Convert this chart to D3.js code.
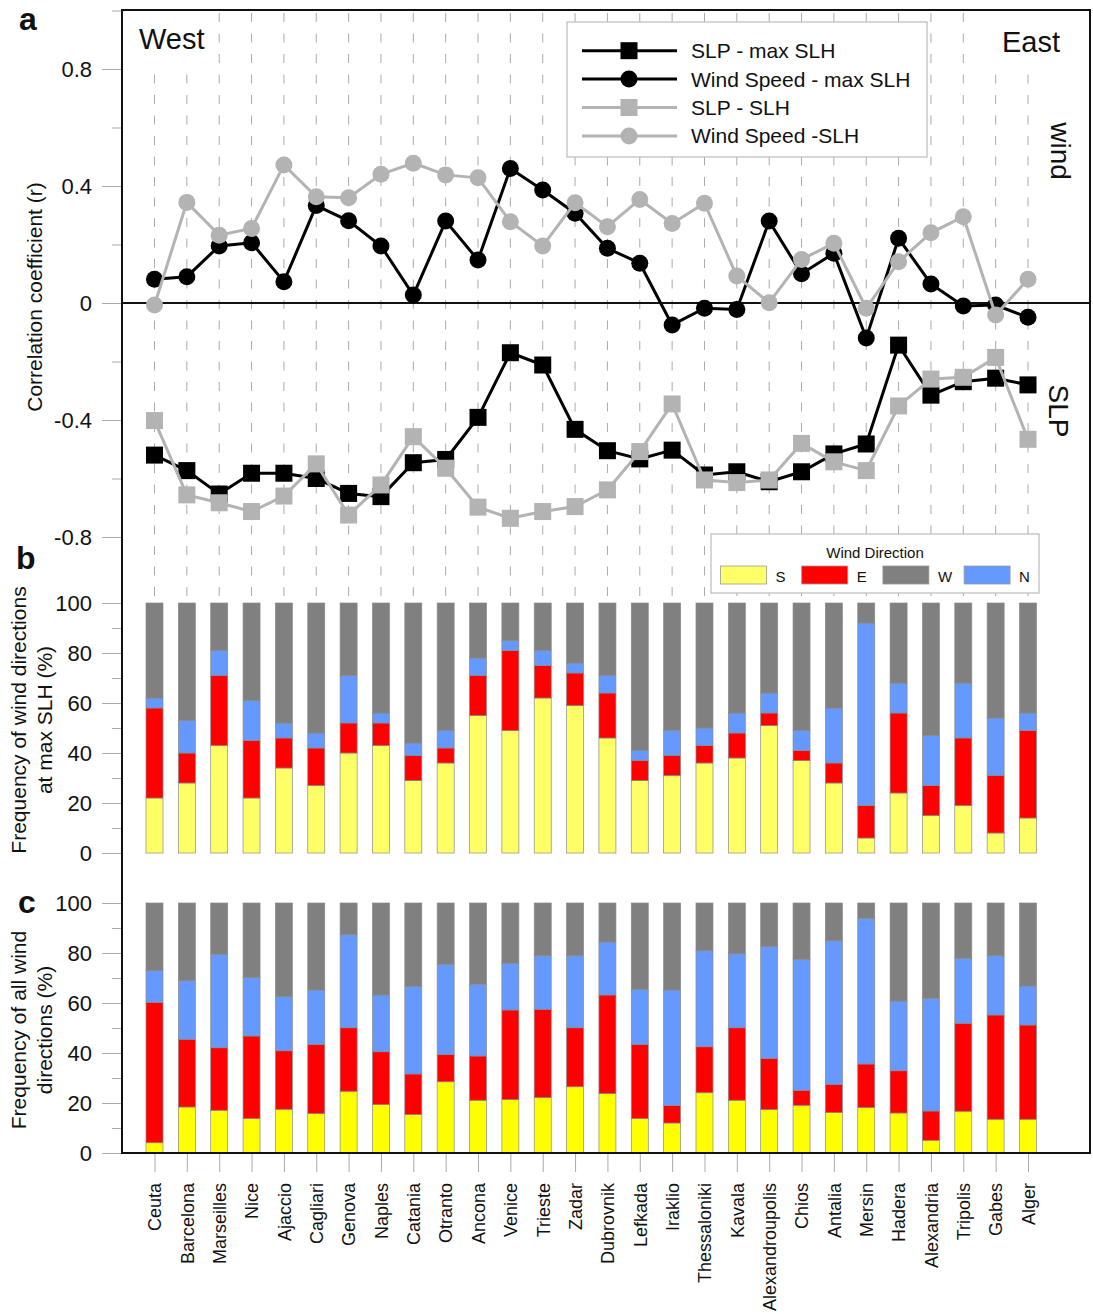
<!DOCTYPE html>
<html>
<head>
<meta charset="utf-8">
<script src="https://cdn.jsdelivr.net/npm/d3@7"></script>
<style>
  body { margin:0; background:#fff; }
  svg text { font-family:"Liberation Sans", Arial, sans-serif; fill:#111; }
  .tick line { stroke:#aaa; }
</style>
</head>
<body>
<div id="chart"></div>
<script>
// stations west -> east
const stations = ["Ceuta","Barcelona","Marseilles","Nice","Ajaccio","Cagliari","Genova","Naples","Catania","Otranto","Ancona","Venice","Trieste","Zadar","Dubrovnik","Lefkada","Iraklio","Thessaloniki","Kavala","Alexandroupolis","Chios","Antalia","Mersin","Hadera","Alexandria","Tripolis","Gabes","Alger"];

// panel a: correlation coefficients
const slpMax  = [-0.52,-0.573,-0.653,-0.582,-0.582,-0.60,-0.651,-0.662,-0.546,-0.535,-0.391,-0.17,-0.212,-0.432,-0.505,-0.533,-0.503,-0.588,-0.577,-0.611,-0.577,-0.516,-0.482,-0.144,-0.315,-0.269,-0.257,-0.28];
const windMax = [0.081,0.09,0.195,0.206,0.073,0.333,0.281,0.195,0.027,0.28,0.147,0.46,0.386,0.307,0.187,0.136,-0.075,-0.018,-0.022,0.28,0.10,0.17,-0.12,0.221,0.065,-0.01,-0.007,-0.049];
const slpAll  = [-0.402,-0.656,-0.683,-0.713,-0.66,-0.55,-0.725,-0.622,-0.457,-0.565,-0.698,-0.736,-0.713,-0.696,-0.639,-0.508,-0.345,-0.605,-0.614,-0.605,-0.48,-0.543,-0.573,-0.352,-0.26,-0.254,-0.186,-0.466];
const windAll = [-0.007,0.344,0.232,0.255,0.472,0.363,0.36,0.44,0.478,0.438,0.428,0.278,0.195,0.343,0.261,0.354,0.272,0.341,0.092,0.001,0.149,0.204,-0.018,0.141,0.24,0.295,-0.041,0.081];
const aTicks = [-0.8,-0.4,0,0.4,0.8], aTickLabels = ["-0.8","-0.4","0","0.4","0.8"], aMinor = [-0.6,-0.2,0.2,0.6,1.0];

// panel b: wind direction frequency at max SLH (%)
const bS = [22,28,43,22,34,27,40,43,29,36,55,49,62,59,46,29,31,36,38,51,37,28,6,24,15,19,8,14];
const bE = [36,12,28,23,12,15,12,9,10,6,16,32,13,13,18,8,8,7,10,5,4,8,13,32,12,27,23,35];
const bN = [4,13,10,16,6,6,19,4,5,7,7,4,6,4,7,4,10,7,8,8,8,22,73,12,20,22,23,7];
const bW = [38,47,19,39,48,52,29,44,56,51,22,15,19,24,29,59,51,50,44,36,51,42,8,32,53,32,46,44];

// panel c: frequency of all wind directions (%)
const cS = [4.1,18.4,17.1,13.8,17.5,15.8,24.7,19.4,15.4,28.5,21.1,21.4,22.2,26.5,23.8,13.8,12.0,24.1,21.1,17.4,19.1,16.2,18.2,16.0,5.1,16.7,13.5,13.5];
const cE = [56.2,27.1,25.0,33.0,23.4,27.6,25.4,21.1,16.2,10.9,17.7,35.8,35.3,23.6,39.4,29.6,7.0,18.4,29.0,20.4,6.0,11.3,17.4,16.9,11.7,35.2,41.7,37.7];
const cN = [12.6,23.4,37.4,23.4,21.7,21.8,37.2,22.7,35.0,36.1,28.7,18.7,21.4,28.8,21.2,22.1,46.2,38.4,29.6,44.8,52.4,57.4,58.3,27.9,45.1,26.0,23.7,15.6];
const cW = [27.1,31.1,20.5,29.8,37.4,34.8,12.7,36.8,33.4,24.5,32.5,24.1,21.1,21.1,15.6,34.5,34.8,19.1,20.3,17.4,22.5,15.1,6.1,39.2,38.1,22.1,21.1,33.2];
const fTicks = [0,20,40,60,80,100], fMinor = [10,30,50,70,90];

const dirs = ["S","E","N","W"];
const dirColor = { S:"#ffff66", E:"#ff0000", N:"#6699ff", W:"#808080" };
const legendDirs = ["S","E","W","N"];

const W = 1093, H = 1314;
const L = 122, R = 1090, T = 10, B = 1153;
const svg = d3.select("#chart").append("svg").attr("width",W).attr("height",H);

const x  = d3.scalePoint().domain(stations).range([154.5,1028]);
const yA = d3.scaleLinear().domain([-0.8,0.8]).range([537,69]);
const yB = d3.scaleLinear().domain([0,100]).range([853,603]);
const yC = d3.scaleLinear().domain([0,100]).range([1153,903]);

// dashed station guides (panels a and b)
svg.append("g").selectAll("line").data(stations).join("line")
    .attr("x1",d=>x(d)).attr("x2",d=>x(d)).attr("y1",T+3).attr("y2",598)
    .attr("stroke","#aaa").attr("stroke-width",1).attr("stroke-dasharray","9,11.5");

// West / East labels with white background
svg.append("rect").attr("x",132).attr("y",T+2).attr("width",80).attr("height",60).attr("fill","#fff");
svg.append("rect").attr("x",988).attr("y",T+2).attr("width",90).attr("height",60).attr("fill","#fff");
svg.append("text").attr("x",139).attr("y",49).style("font-size","29px").text("West");
svg.append("text").attr("x",1060).attr("y",52).attr("text-anchor","end").style("font-size","29px").text("East");
svg.append("text").attr("transform","translate(1051,151) rotate(90)").attr("text-anchor","middle").style("font-size","28px").text("wind");
svg.append("text").attr("transform","translate(1049,411) rotate(90)").attr("text-anchor","middle").style("font-size","28px").text("SLP");

// y axes with long major and short minor ticks
function yAxis(scale, major, labels, minor) {
    svg.append("g").attr("transform",`translate(${L},0)`)
        .call(d3.axisLeft(scale).tickValues(minor).tickSize(10).tickFormat(""))
        .call(g=>g.select(".domain").remove());
    svg.append("g").attr("transform",`translate(${L},0)`)
        .call(d3.axisLeft(scale).tickValues(major).tickSize(20).tickPadding(10)
            .tickFormat((d,i)=>labels ? labels[i] : d))
        .call(g=>g.select(".domain").remove())
        .call(g=>g.selectAll("text").style("font-size","22px").attr("fill","#111"));
}
yAxis(yA, aTicks, aTickLabels, aMinor);
yAxis(yB, fTicks, null, fMinor);
yAxis(yC, fTicks, null, fMinor);

// zero line
svg.append("line").attr("x1",L).attr("x2",R).attr("y1",yA(0)).attr("y2",yA(0)).attr("stroke","#111").attr("stroke-width",2);

// correlation series
const series = [
    { vals:slpMax,  color:"#000",    shape:"square", name:"SLP - max SLH" },
    { vals:windMax, color:"#000",    shape:"circle", name:"Wind Speed - max SLH" },
    { vals:slpAll,  color:"#b3b3b3", shape:"square", name:"SLP - SLH" },
    { vals:windAll, color:"#b3b3b3", shape:"circle", name:"Wind Speed -SLH" },
];
const line = d3.line().x((d,i)=>x(stations[i])).y(d=>yA(d));
function marker(g, shape, color, cx, cy) {
    if (shape==="square") g.append("rect").attr("x",cx-8.5).attr("y",cy-8.5).attr("width",17).attr("height",17).attr("fill",color);
    else g.append("circle").attr("cx",cx).attr("cy",cy).attr("r",8.5).attr("fill",color);
}
series.forEach(s => {
    const g = svg.append("g");
    g.append("path").datum(s.vals).attr("d",line).attr("fill","none").attr("stroke",s.color).attr("stroke-width",3);
    s.vals.forEach((v,i)=>marker(g, s.shape, s.color, x(stations[i]), yA(v)));
});

// line legend
svg.append("rect").attr("x",567).attr("y",22).attr("width",360).attr("height",135).attr("fill","#fff").attr("stroke","#bbb").attr("stroke-width",1.2);
series.forEach((s,i) => {
    const ly = 50.7 + i*28.4, g = svg.append("g");
    g.append("line").attr("x1",582).attr("x2",677).attr("y1",ly).attr("y2",ly).attr("stroke",s.color).attr("stroke-width",3);
    marker(g, s.shape, s.color, 629, ly);
    g.append("text").attr("x",691).attr("y",ly+7.5).style("font-size","21px").text(s.name);
});

// stacked bars
function bars(scale, cols, yellow) {
    const rows = stations.map((st,i)=>({ st, S:cols.S[i], E:cols.E[i], N:cols.N[i], W:cols.W[i] }));
    const stacked = d3.stack().keys(dirs)(rows);
    svg.append("g").selectAll("g").data(stacked).join("g")
        .attr("fill",d=>d.key==="S" ? yellow : dirColor[d.key])
        .selectAll("rect").data(d=>d).join("rect")
        .attr("x",d=>x(d.data.st)-8.5).attr("width",17)
        .attr("y",d=>scale(d[1])).attr("height",d=>scale(d[0])-scale(d[1]))
        .attr("stroke","#8a8a8a").attr("stroke-width",0.7);
}
bars(yB, {S:bS,E:bE,N:bN,W:bW}, "#ffff66");
bars(yC, {S:cS,E:cE,N:cN,W:cW}, "#ffff00");

// wind direction legend
svg.append("rect").attr("x",711).attr("y",534).attr("width",328).attr("height",59).attr("fill","#fff").attr("stroke","#bbb").attr("stroke-width",1.2);
svg.append("text").attr("x",875).attr("y",558).attr("text-anchor","middle").style("font-size","15px").text("Wind Direction");
legendDirs.forEach((k,i) => {
    const lx = 720.5 + i*81.2;
    svg.append("rect").attr("x",lx).attr("y",566).attr("width",46).attr("height",18)
        .attr("fill",dirColor[k]).attr("stroke","#999").attr("stroke-width",0.8);
    svg.append("text").attr("x",lx+55).attr("y",581.5).style("font-size","15px").text(k);
});

// bottom station axis
svg.append("g").attr("transform",`translate(0,${B})`)
    .call(d3.axisBottom(x).tickSize(19).tickPadding(0))
    .call(g=>g.select(".domain").remove())
    .call(g=>g.selectAll("text")
        .attr("transform","rotate(-90)").attr("text-anchor","end")
        .attr("x",-30).attr("y",0).attr("dy","0.35em")
        .style("font-size","18px").attr("fill","#111"));

// frame
svg.append("rect").attr("x",L).attr("y",T).attr("width",R-L).attr("height",B-T)
    .attr("fill","none").attr("stroke","#111").attr("stroke-width",2);

// axis titles
svg.append("text").attr("transform","translate(42,297) rotate(-90)").attr("text-anchor","middle")
    .style("font-size","21px").text("Correlation coefficient (r)");
[["Frequency of wind directions","at max SLH (%)",720],["Frequency of all wind","directions (%)",1030]].forEach(([l1,l2,cy]) => {
    const t = svg.append("text").attr("transform",`translate(26,${cy}) rotate(-90)`).attr("text-anchor","middle").style("font-size","21px");
    t.append("tspan").attr("x",0).attr("dy",0).text(l1);
    t.append("tspan").attr("x",0).attr("dy","1.25em").text(l2);
});

// panel letters
[["a",19,30],["b",16,569],["c",18,913]].forEach(([l,lx,ly]) =>
    svg.append("text").attr("x",lx).attr("y",ly).style("font-size","32px").style("font-weight","bold").text(l));
</script>
</body>
</html>
